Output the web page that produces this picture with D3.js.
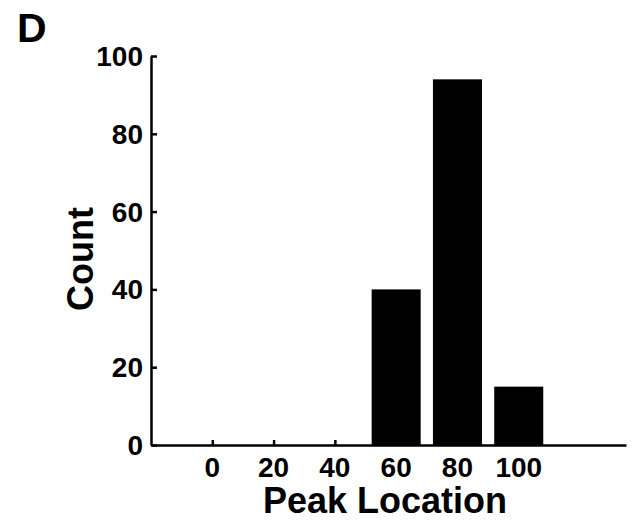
<!DOCTYPE html>
<html>
<head>
<meta charset="utf-8">
<script src="https://cdn.jsdelivr.net/npm/d3@7"></script>
<style>
  body { margin: 0; background: #fff; }
  text { font-family: "Liberation Sans", Arial, Helvetica, sans-serif; font-weight: bold; fill: #000; }
</style>
</head>
<body>
<svg id="chart"></svg>
<script>
'use strict';

// bin centres and counts (hist output)
var binCenters = [0, 20, 40, 60, 80, 100];
var counts = [0, 0, 0, 40, 94, 15];
var yTicks = [0, 20, 40, 60, 80, 100];
var xTicks = [0, 20, 40, 60, 80, 100];

var chartW = 636, chartH = 522;
var plotLeft = 151, plotRight = 626, plotTop = 56, plotBottom = 445;

var svg = d3.select('#chart')
  .attr('width', chartW)
  .attr('height', chartH);

var x = d3.scaleLinear().domain([-20, 135]).range([plotLeft, plotRight]);
var y = d3.scaleLinear().domain([0, 100]).range([plotBottom, plotTop]);

var barW = x(16) - x(0);

// bars
svg.append('g').selectAll('rect')
  .data(binCenters)
  .enter().append('rect')
  .attr('x', function (d) { return x(d) - barW / 2; })
  .attr('y', function (d, i) { return y(counts[i]); })
  .attr('width', barW)
  .attr('height', function (d, i) { return y(0) - y(counts[i]); })
  .attr('fill', '#000');

// y axis (ticks inside)
var yAxis = svg.append('g')
  .attr('transform', 'translate(' + plotLeft + ',0)')
  .call(d3.axisRight(y).tickValues(yTicks).tickSize(6).tickSizeOuter(0).tickFormat(''));
yAxis.selectAll('path, line').attr('stroke', '#000').attr('stroke-width', 2.5);

svg.append('g').selectAll('text.ytick')
  .data(yTicks)
  .enter().append('text')
  .attr('class', 'ytick')
  .attr('x', plotLeft - 8)
  .attr('y', function (d) { return y(d); })
  .attr('dy', '0.36em')
  .attr('text-anchor', 'end')
  .style('font-size', '28px')
  .text(function (d) { return d; });

// x axis (ticks inside)
var xAxis = svg.append('g')
  .attr('transform', 'translate(0,' + plotBottom + ')')
  .call(d3.axisTop(x).tickValues(xTicks).tickSize(5).tickSizeOuter(0).tickFormat(''));
xAxis.selectAll('path, line').attr('stroke', '#000').attr('stroke-width', 2.5);

svg.append('g').selectAll('text.xtick')
  .data(xTicks)
  .enter().append('text')
  .attr('class', 'xtick')
  .attr('x', function (d) { return x(d); })
  .attr('y', 477)
  .attr('text-anchor', 'middle')
  .style('font-size', '28px')
  .text(function (d) { return d; });

// labels
svg.append('text')
  .attr('x', 385)
  .attr('y', 513)
  .attr('text-anchor', 'middle')
  .style('font-size', '36px')
  .text('Peak Location');

svg.append('text')
  .attr('transform', 'translate(93,259) rotate(-90)')
  .attr('text-anchor', 'middle')
  .style('font-size', '36px')
  .text('Count');

svg.append('text')
  .attr('x', 17)
  .attr('y', 42)
  .style('font-size', '41px')
  .text('D');
</script>
</body>
</html>
